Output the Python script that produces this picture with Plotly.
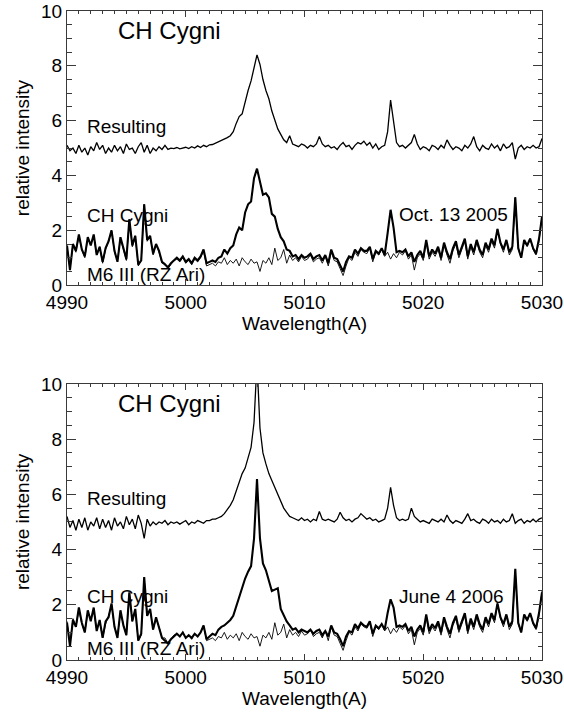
import plotly.graph_objects as go

# ---------------- data ----------------
wl_start = 4990.0
wl_step = 0.25
n_pts = 161
wavelength = [wl_start + wl_step * i for i in range(n_pts)]

# M6 III (RZ Ari) comparison spectrum (same in both panels)
m6_rz_ari = [
    1.40, 0.60, 1.50, 1.20, 1.80,
    1.30, 1.00, 1.70, 1.50,
    1.80, 1.10, 1.40, 0.80,
    1.30, 1.60, 2.00, 1.20,
    0.90, 1.70, 1.30, 0.90,
    2.40, 1.40, 1.80, 0.70,
    0.90, 2.95, 1.60, 1.80,
    1.10, 1.50, 1.20, 0.80,
    0.80, 0.60, 0.75, 0.90,
    0.95, 0.85, 1.00, 0.80,
    0.90, 0.75, 0.95, 0.85,
    1.00, 1.25, 0.70, 0.75,
    0.80, 0.70, 0.85, 0.80,
    1.00, 0.75, 0.90, 0.80,
    0.95, 0.70, 1.00, 0.85,
    0.75, 0.95, 0.80, 0.85,
    0.50, 0.90, 0.80, 1.00,
    0.75, 1.35, 0.90, 1.00,
    1.30, 0.80, 1.10, 0.90,
    1.00, 0.85, 1.05, 0.90,
    0.95, 1.10, 0.85, 0.95,
    1.00, 0.80, 1.05, 0.70,
    1.20, 0.90, 0.85, 0.60,
    0.35, 0.70, 1.00, 0.90,
    1.20, 1.05, 1.30, 1.20,
    1.15, 1.35, 0.85, 1.20,
    1.10, 1.30, 1.05, 1.20,
    0.95, 1.15, 1.00, 1.20,
    1.10, 1.25, 0.95, 1.10,
    0.55, 1.00, 1.15, 0.90,
    1.55, 0.95, 1.20, 1.05,
    1.30, 0.90, 1.45, 1.10,
    0.80, 1.25, 1.50, 1.00,
    1.30, 1.60, 0.95, 1.40,
    1.10, 1.55, 1.20, 1.00,
    1.45, 1.20, 1.60, 1.35,
    2.05, 1.50, 1.20, 1.60,
    1.10, 1.30, 3.20, 1.30,
    1.00, 1.60, 1.40, 1.70,
    1.30, 1.10, 1.60, 2.50,
]

# CH Cygni, Oct. 13 2005
ch_cyg_2005 = [
    1.45, 0.55, 1.50, 1.25, 1.85,
    1.30, 1.05, 1.75, 1.45,
    1.85, 1.10, 1.40, 0.85,
    1.35, 1.60, 2.00, 1.25,
    0.85, 1.75, 1.30, 0.95,
    2.40, 1.45, 1.80, 0.75,
    0.90, 2.95, 1.65, 1.80,
    1.15, 1.50, 1.25, 0.85,
    0.75, 0.65, 0.80, 0.90,
    1.00, 0.90, 1.05, 0.85,
    0.95, 0.80, 1.00, 0.90,
    1.05, 1.30, 0.80, 0.85,
    0.90, 0.85, 1.00, 1.05,
    1.30, 1.15, 1.35, 1.45,
    1.85, 2.10, 2.00, 2.65,
    2.95, 3.05, 3.90, 4.25,
    3.75, 3.30, 3.35, 3.20,
    2.60, 2.50, 2.05, 1.75,
    1.60, 1.30, 1.25, 1.05,
    1.10, 0.95, 1.10, 1.00,
    1.05, 1.15, 0.95, 1.05,
    1.10, 0.90, 1.10, 0.80,
    1.30, 1.00, 0.95, 0.70,
    0.50, 0.85, 1.05, 1.00,
    1.30, 1.15, 1.35, 1.25,
    1.25, 1.40, 0.95, 1.25,
    1.15, 1.35, 1.10, 1.90,
    2.75, 2.10, 1.20, 1.25,
    1.20, 1.30, 1.05, 1.20,
    0.85, 1.10, 1.25, 1.00,
    1.65, 1.05, 1.30, 1.15,
    1.40, 1.00, 1.55, 1.20,
    0.95, 1.35, 1.60, 1.10,
    1.40, 1.70, 1.05, 1.50,
    1.20, 1.65, 1.30, 1.10,
    1.55, 1.30, 1.70, 1.45,
    2.05, 1.55, 1.30, 1.65,
    1.20, 1.40, 3.20, 1.35,
    1.00, 1.65, 1.45, 1.70,
    1.35, 1.15, 1.70, 2.50,
]

# Resulting spectrum (offset), Oct. 13 2005
res_2005 = [
    5.10, 4.90, 5.00, 4.80, 5.10, 4.85, 5.00, 4.75, 5.05,
    4.90, 5.20, 4.95, 5.10, 4.80, 5.00, 4.85, 5.10,
    4.90, 5.05, 4.80, 5.15, 4.95, 5.00, 4.80, 5.05,
    5.20, 4.85, 5.10, 4.80, 5.00, 4.90, 5.05, 4.95,
    5.10, 4.95, 5.00, 4.98, 5.02, 4.97, 5.00, 5.03,
    4.98, 5.05, 5.00, 5.08, 5.02, 5.10, 5.05, 5.12,
    5.13, 5.18, 5.20, 5.25, 5.30, 5.38, 5.45, 5.60,
    5.90, 6.15, 6.25, 6.70, 7.10, 7.45, 7.95, 8.40,
    8.05, 7.50, 7.10, 6.80, 6.35, 5.98, 5.70, 5.50,
    5.30, 5.20, 5.45, 5.15, 5.10, 5.05, 5.15, 5.10,
    5.00, 5.10, 5.05, 5.15, 5.42, 5.15, 5.05, 5.10,
    5.00, 5.05, 4.95, 5.10, 5.20, 5.05, 5.10, 4.95,
    5.10, 5.20, 5.15, 5.25, 5.10, 5.20, 5.00, 5.15,
    4.95, 5.05, 5.10, 5.60, 6.75, 5.90, 5.20, 5.05,
    5.10, 5.00, 5.10, 5.20, 5.50, 5.15, 4.95, 5.05,
    5.00, 4.90, 5.10, 5.05, 4.95, 5.10, 5.00, 5.30,
    5.10, 4.95, 5.05, 5.00, 4.90, 5.10, 5.00, 5.15,
    5.42, 5.05, 4.90, 5.10, 5.00, 4.95, 5.15, 5.00,
    5.10, 4.90, 5.15, 5.00, 5.05, 5.20, 4.60, 5.00,
    5.10, 4.95, 5.05, 5.00, 5.10, 5.00, 5.05, 5.35,
]

# CH Cygni, June 4 2006
ch_cyg_2006 = [
    1.35, 0.50, 1.45, 1.20, 1.90,
    1.35, 1.00, 1.80, 1.40,
    1.90, 1.05, 1.45, 0.80,
    1.40, 1.55, 2.05, 1.20,
    0.80, 1.80, 1.25, 0.90,
    2.45, 1.40, 1.85, 0.70,
    0.95, 3.00, 1.60, 1.85,
    1.10, 1.55, 1.20, 0.80,
    0.70, 0.60, 0.75, 0.85,
    0.95, 0.85, 1.00, 0.80,
    0.90, 0.80, 0.95, 0.85,
    1.00, 1.25, 0.75, 0.85,
    0.95, 0.90, 1.10, 1.20,
    1.25, 1.35, 1.45, 1.60,
    1.95, 2.30, 2.65, 2.95,
    3.20, 3.40, 4.40, 6.55,
    4.40, 3.50, 3.25, 2.90,
    2.50, 2.55, 2.60, 1.85,
    1.60, 1.40, 1.25, 1.10,
    1.15, 1.00, 1.10, 1.05,
    1.00, 1.10, 0.95, 1.05, 1.10, 0.90, 1.05, 0.85,
    1.25, 1.00, 0.95, 0.75, 0.50, 0.85, 1.05, 1.00,
    1.30, 1.15, 1.35, 1.25, 1.20, 1.40, 0.95, 1.25,
    1.15, 1.30, 1.10, 1.70, 2.20, 1.90, 1.20, 1.25,
    1.20, 1.30, 1.05, 1.20, 0.85, 1.10, 1.25, 1.00,
    1.65, 1.05, 1.30, 1.15, 1.40, 1.00, 1.55, 1.20,
    0.95, 1.35, 1.60, 1.10, 1.40, 1.70, 1.05, 1.50,
    1.20, 1.65, 1.30, 1.10, 1.55, 1.30, 1.70, 1.45,
    2.05, 1.55, 1.30, 1.65, 1.20, 1.40, 3.30, 1.35,
    1.00, 1.65, 1.45, 1.70, 1.35, 1.15, 1.70, 2.45,
]

# Resulting spectrum (offset), June 4 2006
res_2006 = [
    5.20, 4.80, 5.05, 4.70, 5.10, 4.80, 5.15, 4.70, 5.00,
    4.85, 5.15, 4.75, 5.10, 4.80, 5.05, 4.70, 5.15,
    4.85, 5.00, 4.75, 5.20, 4.90, 5.10, 4.75, 5.25,
    4.95, 4.40, 5.10, 4.85, 5.00, 4.90, 5.00, 4.95,
    5.05, 4.90, 5.00, 4.95, 5.00, 4.92, 4.98, 5.05,
    4.90, 5.00, 4.95, 5.05, 5.00, 4.95, 5.05, 5.05,
    5.10, 5.10, 5.15, 5.20, 5.30, 5.45, 5.60, 5.80,
    6.10, 6.40, 6.75, 6.95, 7.30, 7.70, 8.60, 10.80,
    8.40, 7.50, 7.10, 6.75, 6.50, 6.25, 6.00, 5.75,
    5.50, 5.35, 5.20, 5.15, 5.10, 5.05, 5.15, 5.05,
    5.10, 5.00, 5.10, 5.05, 5.38, 5.10, 5.05, 5.10,
    5.05, 5.00, 5.10, 5.35, 5.15, 5.05, 5.10, 5.00,
    5.10, 5.15, 5.30, 5.20, 5.10, 5.15, 5.05, 5.10,
    5.00, 5.05, 5.10, 5.50, 6.25, 5.60, 5.15, 5.05,
    5.10, 5.05, 5.10, 5.50, 5.20, 5.10, 5.00, 5.05,
    5.00, 4.95, 5.10, 5.05, 5.00, 5.10, 5.00, 5.25,
    5.05, 4.95, 5.05, 5.00, 4.95, 5.10, 5.30, 5.05,
    5.10, 5.00, 4.95, 5.10, 5.05, 4.95, 5.10, 5.00,
    5.05, 4.95, 5.10, 5.00, 5.05, 5.30, 4.95, 5.05,
    5.10, 4.95, 5.05, 5.00, 5.10, 5.00, 5.10, 5.15,
]

for s in (m6_rz_ari, ch_cyg_2005, res_2005, ch_cyg_2006, res_2006):
    assert len(s) == n_pts, len(s)

panel_dates = ["Oct. 13 2005", "June 4 2006"]

# ---------------- figure ----------------
FONT = "Liberation Sans, Arial, Helvetica, sans-serif"
AX = "#3a3a3a"

# plot-area geometry (pixels in the 564x713 page)
W, H = 564, 713
L, R, T, B = 67, 542, 9, 660
PH = B - T
top_dom = [(B - 284) / PH, 1.0]
bot_dom = [0.0, (B - 383) / PH]

fig = go.Figure()

panels = [
    ("x", "y", ch_cyg_2005, res_2005),
    ("x2", "y2", ch_cyg_2006, res_2006),
]

for xa, ya, ch, res in panels:
    fig.add_trace(go.Scatter(x=wavelength, y=m6_rz_ari, mode="lines", xaxis=xa, yaxis=ya,
                             line=dict(color="black", width=0.9), showlegend=False))
    fig.add_trace(go.Scatter(x=wavelength, y=ch, mode="lines", xaxis=xa, yaxis=ya,
                             line=dict(color="black", width=2.1), showlegend=False))
    fig.add_trace(go.Scatter(x=wavelength, y=res, mode="lines", xaxis=xa, yaxis=ya,
                             line=dict(color="black", width=1.3), showlegend=False))

def xaxis_cfg(anchor):
    return dict(domain=[0, 1], anchor=anchor, range=[4990, 5030], automargin="height",
                tickmode="linear", tick0=4990, dtick=10, ticklabeloverflow="allow",
                ticks="inside", ticklen=6, tickwidth=1, tickcolor=AX,
                minor=dict(dtick=1, ticks="inside", ticklen=3, tickwidth=1, tickcolor=AX),
                showline=True, linecolor=AX, linewidth=1, mirror="allticks",
                showgrid=False, zeroline=False,
                tickfont=dict(family=FONT, size=19, color="black"),
                title=dict(text="Wavelength(A)", font=dict(family=FONT, size=19, color="black"),
                           standoff=2))

def yaxis_cfg(domain, anchor):
    return dict(domain=domain, anchor=anchor, range=[0, 10], automargin="width",
                tickmode="linear", tick0=0, dtick=2, ticklabeloverflow="allow",
                ticks="inside", ticklen=9, tickwidth=1, tickcolor=AX,
                minor=dict(dtick=0.5, ticks="inside", ticklen=4.5, tickwidth=1, tickcolor=AX),
                showline=True, linecolor=AX, linewidth=1, mirror="allticks",
                showgrid=False, zeroline=False,
                tickfont=dict(family=FONT, size=19, color="black"),
                title=dict(text="relative intensity", font=dict(family=FONT, size=19, color="black"),
                           standoff=6))

fig.update_layout(
    template="none",
    width=W, height=H, autosize=False,
    margin=dict(l=L, r=W - R, t=T, b=H - B, pad=0),
    paper_bgcolor="white", plot_bgcolor="white",
    font=dict(family=FONT, color="black"),
    xaxis=xaxis_cfg("y"),
    yaxis=yaxis_cfg(top_dom, "x"),
    xaxis2=xaxis_cfg("y2"),
    yaxis2=yaxis_cfg(bot_dom, "x2"),
)

annots = []
label_sets = [
    ("x", "y", 9.3, 5.8, 2.55, 0.38, 2.58, panel_dates[0]),
    ("x2", "y2", 9.28, 5.85, 2.3, 0.42, 2.3, panel_dates[1]),
]
for xr, yr, y_big, y_res, y_ch, y_m6, y_date, date in label_sets:
    annots.append(dict(x=4994.1, y=y_big, text="CH Cygni", font=dict(size=24)))
    annots.append(dict(x=4991.5, y=y_res, text="Resulting", font=dict(size=19)))
    annots.append(dict(x=4991.5, y=y_ch, text="CH Cygni", font=dict(size=19)))
    annots.append(dict(x=4991.5, y=y_m6, text="M6 III (RZ Ari)", font=dict(size=19)))
    annots.append(dict(x=5017.8, y=y_date, text=date, font=dict(size=19)))
    for a in annots[-5:]:
        a.update(xref=xr, yref=yr, xanchor="left", yanchor="middle", showarrow=False)
        a["font"].update(family=FONT, color="black")

fig.update_layout(annotations=annots)

# remove the default page margin, then force one full redraw of the axes
redraw_js = (
    "document.body.style.margin='0px';"
    "var gd=document.getElementById('{plot_id}');"
    "Plotly.relayout(gd, {'margin.t': 9.5}).then(function(){"
    "return Plotly.relayout(gd, {'margin.t': 9});});"
)

fig.write_html("out.html", config={"displayModeBar": False}, post_script=redraw_js)
